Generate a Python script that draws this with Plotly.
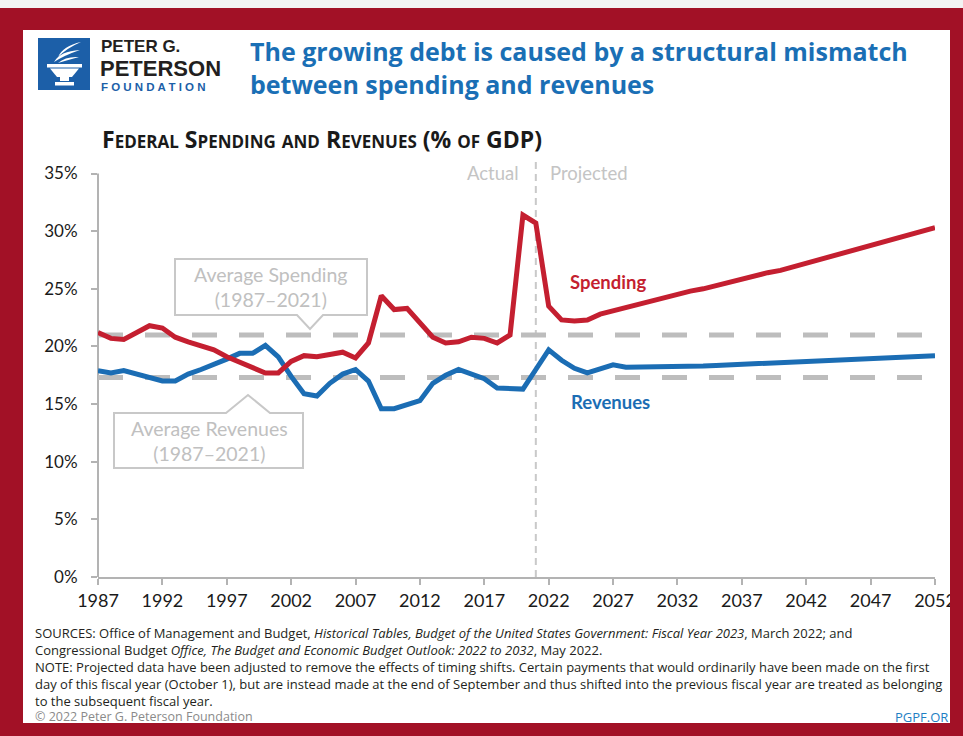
import plotly.graph_objects as go

# ---------------- data ----------------
years = list(range(1987, 2053))

spending = [21.2, 20.7, 20.6, 21.2, 21.8, 21.6, 20.8, 20.4, 20.1, 19.7,
            19.1, 18.6, 18.1, 17.7, 17.7, 18.7, 19.2, 19.1, 19.3, 19.5,
            19.0, 20.3, 24.4, 23.2, 23.3, 22.1, 20.8, 20.3, 20.4, 20.8,
            20.7, 20.3, 21.0, 31.4, 30.7, 23.5, 22.3, 22.2, 22.3, 22.8,
            23.1, 23.4, 23.7, 24.0, 24.2, 24.5, 24.8, 25.0, 25.3, 25.6,
            25.9, 26.1, 26.4, 26.6, 26.9, 27.2, 27.5, 27.8, 28.1, 28.5,
            28.8, 29.1, 29.4, 29.7, 30.0, 30.3]

revenues = [17.9, 17.7, 17.9, 17.6, 17.4, 17.0, 17.0, 17.6, 18.0, 18.4,
            18.9, 19.4, 19.4, 20.1, 19.1, 17.4, 15.9, 15.7, 16.8, 17.6,
            18.0, 17.0, 14.6, 14.6, 15.0, 15.3, 16.8, 17.5, 18.0, 17.6,
            17.2, 16.4, 16.4, 16.3, 18.0, 19.7, 18.8, 18.1, 17.7, 18.0,
            18.4, 18.2, 18.2, 18.2, 18.2, 18.2, 18.25, 18.3, 18.35, 18.4,
            18.4, 18.45, 18.5, 18.55, 18.6, 18.65, 18.7, 18.75, 18.8, 18.85,
            18.9, 18.95, 19.0, 19.1, 19.15, 19.2]

avg_spending = 21.0
avg_revenues = 17.3
last_actual_year = 2021

x_ticks = list(range(1987, 2053, 5))
y_ticks = [0, 5, 10, 15, 20, 25, 30, 35]
y_tick_labels = [f"{v}%" for v in y_ticks]

# ---------------- layout helpers ----------------
W, H = 963, 736
ML, MR, MT, MB = 98, 28, 162, 159
PW, PH = W - ML - MR, H - MT - MB


def px(x):
    return (x - ML) / PW


def py(y):
    return (H - MB - y) / PH


def path(points, close=True):
    s = "M " + " L ".join(f"{px(a):.5f},{py(b):.5f}" for a, b in points)
    return s + (" Z" if close else "")


RED = "#c41f30"
BLUE = "#1b6db4"
GRAY_DASH = "#bdbdbd"
GRAY_TXT = "#c0c0c0"
BORDER = "#a21126"

fig = go.Figure()

# average lines
fig.add_trace(go.Scatter(x=[years[0], years[-1]], y=[avg_spending] * 2, mode="lines",
                         line=dict(color=GRAY_DASH, width=5, dash="25px,22px"),
                         hoverinfo="skip", cliponaxis=False))
fig.add_trace(go.Scatter(x=[years[0], years[-1]], y=[avg_revenues] * 2, mode="lines",
                         line=dict(color=GRAY_DASH, width=5, dash="25px,22px"),
                         hoverinfo="skip", cliponaxis=False))

fig.add_trace(go.Scatter(x=years, y=revenues, mode="lines", name="Revenues",
                         line=dict(color=BLUE, width=5), cliponaxis=False))
fig.add_trace(go.Scatter(x=years, y=spending, mode="lines", name="Spending",
                         line=dict(color=RED, width=5), cliponaxis=False))

shapes = []
# red frame
shapes.append(dict(type="rect", xref="paper", yref="paper", layer="below",
                   x0=px(0), x1=px(W), y0=py(H), y1=py(0),
                   fillcolor="#f3f3f3", line=dict(width=0)))
shapes.append(dict(type="rect", xref="paper", yref="paper", layer="below",
                   x0=px(0), x1=px(W), y0=py(H), y1=py(8),
                   fillcolor=BORDER, line=dict(width=0)))
shapes.append(dict(type="rect", xref="paper", yref="paper", layer="below",
                   x0=px(23), x1=px(950), y0=py(723), y1=py(30),
                   fillcolor="white", line=dict(width=0)))
# right border above tick labels
shapes.append(dict(type="rect", xref="paper", yref="paper", layer="above",
                   x0=px(950), x1=px(W), y0=py(H), y1=py(8),
                   fillcolor=BORDER, line=dict(width=0)))

# y axis line (0 to 35)
shapes.append(dict(type="line", xref="paper", yref="y", x0=0, x1=0, y0=0, y1=35,
                   line=dict(color="#b3b3b3", width=2), layer="below"))
# actual / projected divider
shapes.append(dict(type="line", xref="x", yref="y", x0=last_actual_year, x1=last_actual_year,
                   y0=0, y1=36, line=dict(color="#c9c9c9", width=2, dash="7px,5px"), layer="below"))

# callout boxes
shapes.append(dict(type="path", xref="paper", yref="paper", layer="above",
                   path=path([(175, 259), (367, 259), (367, 315), (323, 315), (310, 329),
                              (297, 315), (175, 315)]),
                   line=dict(color="#c8c8c8", width=2), fillcolor="rgba(0,0,0,0)"))
shapes.append(dict(type="path", xref="paper", yref="paper", layer="above",
                   path=path([(114, 413), (226, 413), (248, 395), (270, 413), (303, 413),
                              (303, 468), (114, 468)]),
                   line=dict(color="#c8c8c8", width=2), fillcolor="rgba(0,0,0,0)"))

# logo
LOGO_BLUE = "#1c5fa8"
shapes.append(dict(type="rect", xref="paper", yref="paper", layer="above",
                   x0=px(38), x1=px(90), y0=py(90), y1=py(38),
                   fillcolor=LOGO_BLUE, line=dict(width=0)))
torch = [
    [(47, 64), (82, 64), (82, 67.5), (47, 67.5)],
    [(50, 68.5), (79, 68.5), (72, 77), (57, 77)],
    [(60, 77), (69, 77), (69, 81), (60, 81)],
    [(55, 82), (74, 82), (74, 85.5), (55, 85.5)],
]
for poly in torch:
    shapes.append(dict(type="path", xref="paper", yref="paper", layer="above",
                       path=path(poly), fillcolor="white", line=dict(width=0)))


def curve(p0, c1, p1, c2):
    return (f"M {px(p0[0]):.5f},{py(p0[1]):.5f} Q {px(c1[0]):.5f},{py(c1[1]):.5f} "
            f"{px(p1[0]):.5f},{py(p1[1]):.5f} Q {px(c2[0]):.5f},{py(c2[1]):.5f} "
            f"{px(p0[0]):.5f},{py(p0[1]):.5f} Z")


flames = [
    curve((58, 57), (63, 46), (81, 42), (67, 48)),
    curve((54, 62), (60, 51), (80, 50), (65, 55)),
    curve((58, 63), (66, 56), (79, 57), (68, 60)),
]
for f in flames:
    shapes.append(dict(type="path", xref="paper", yref="paper", layer="above",
                       path=f, fillcolor="white", line=dict(width=0)))

annotations = []


def txt(text, x, y, size, color, family="Lato", xanchor="left", yanchor="middle",
        weight="normal", align="left"):
    annotations.append(dict(text=text, x=px(x), y=py(y), xref="paper", yref="paper",
                            xanchor=xanchor, yanchor=yanchor, showarrow=False, align=align,
                            font=dict(family=family, size=size, color=color, weight=weight)))


# logo text
LF = "Liberation Sans"
txt("PETER G.", 99, 46, 17, "#231f20", family=LF, weight="bold")
txt("PETERSON", 98, 68.3, 22, "#231f20", family=LF, weight="bold")
txt(" ".join("FOUNDATION"), 99, 87.2, 11.5, LOGO_BLUE, family=LF, weight="bold")

# title
TITLE_BLUE = "#1a6fb5"
txt("The growing debt is caused by a structural mismatch<br>between spending and revenues",
    248, 67, 25, TITLE_BLUE, family="Open Sans", weight="bold")

# subtitle (small caps)
sc = "<span style='font-size:17px'>{}</span>"
subtitle = ("F" + sc.format("EDERAL") + " S" + sc.format("PENDING") + " " + sc.format("AND")
            + " R" + sc.format("EVENUES") + " (% " + sc.format("OF") + " GDP)")
txt(subtitle, 100, 139, 23, "#1a1a1a", family="Open Sans", weight="bold")

# actual / projected
txt("Actual", 521, 173, 18.5, "#c4c4c4", xanchor="right")
txt("Projected", 548, 173, 18.5, "#c4c4c4")

# series labels
txt("Spending", 568, 282, 18.5, RED, weight="bold")
txt("Revenues", 569, 402, 18.5, BLUE, weight="bold")

# callout text
txt("Average Spending<br>(1987–2021)", 271, 287, 19.5, GRAY_TXT, xanchor="center", align="center")
txt("Average Revenues<br>(1987–2021)", 209, 441, 19.5, GRAY_TXT, xanchor="center", align="center")

# footer
FOOT = "#231f20"
FF = "Open Sans"
footer_lines = [
    "SOURCES: Office of Management and Budget, <i>Historical Tables, Budget of the United States "
    "Government: Fiscal Year 2023</i>, March 2022; and",
    "Congressional Budget <i>Office, The Budget and Economic Budget Outlook: 2022 to 2032</i>, May 2022.",
    "NOTE: Projected data have been adjusted to remove the effects of timing shifts. Certain payments "
    "that would ordinarily have been made on the first",
    "day of this fiscal year (October 1), but are instead made at the end of September and thus shifted "
    "into the previous fiscal year are treated as belonging",
    "to the subsequent fiscal year.",
]
annotations.append(dict(text="<br>".join(footer_lines), x=px(33), y=py(621.5), xref="paper", yref="paper",
                        xanchor="left", yanchor="top", showarrow=False, align="left",
                        font=dict(family=FF, size=13, color=FOOT)))
txt("© 2022 Peter G. Peterson Foundation", 33, 716.5, 12.5, "#8a8a8a", family=FF)
txt("PGPF.OR", 950, 716.5, 13, "#1f7fc4", family=FF, xanchor="right")

fig.update_layout(
    width=W, height=H,
    margin=dict(l=ML, r=MR, t=MT, b=MB, autoexpand=False),
    paper_bgcolor="white", plot_bgcolor="rgba(0,0,0,0)",
    showlegend=False,
    shapes=shapes, annotations=annotations,
    xaxis=dict(range=[1987, 2052], tickvals=x_ticks, ticktext=[str(v) for v in x_ticks],
               showgrid=False, zeroline=False, showline=True, linecolor="#b3b3b3", linewidth=2,
               ticks="outside", ticklen=6, tickwidth=1.5, tickcolor="#b3b3b3",
               tickfont=dict(family="Lato", size=18, color="#1a1a1a"), ticklabelstandoff=0),
    yaxis=dict(range=[0, 36], tickvals=y_ticks, ticktext=y_tick_labels,
               showgrid=False, zeroline=False, showline=False,
               ticks="outside", ticklen=6, tickwidth=1.5, tickcolor="#b3b3b3",
               tickfont=dict(family="Lato", size=17, color="#1a1a1a"), ticklabelstandoff=10),
)

fig.write_html("out.html")
